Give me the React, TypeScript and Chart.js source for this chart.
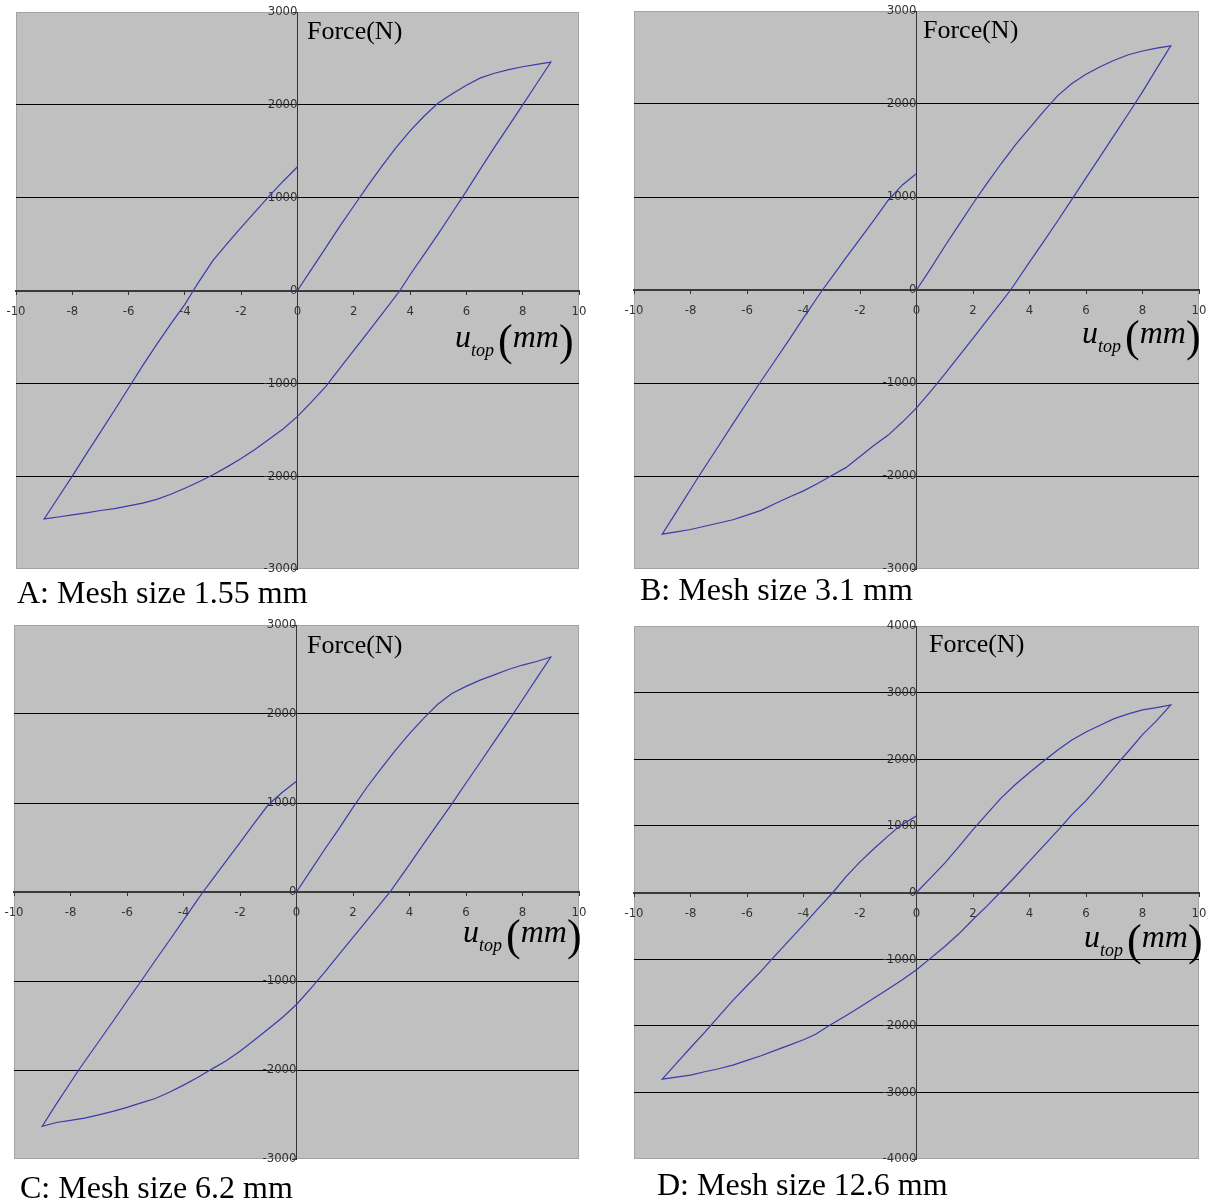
import React, { useEffect, useRef } from 'react';
import { Chart, registerables } from 'chart.js';

Chart.register(...registerables);

// ---------- data (displacement u_top in mm, force in N) ----------
const xTickValues = [-10, -8, -6, -4, -2, 0, 2, 4, 6, 8, 10];
const forceTicksSmall = [-3000, -2000, -1000, 0, 1000, 2000, 3000];
const forceTicksLarge = [-4000, -3000, -2000, -1000, 0, 1000, 2000, 3000, 4000];
const captions = ['A: Mesh size 1.55 mm', 'B: Mesh size 3.1 mm', 'C: Mesh size 6.2 mm', 'D: Mesh size 12.6 mm'];
const forceLabel = 'Force(N)';

const dispA = [0, 0.5, 1, 1.5, 2, 2.5, 3, 3.5, 4, 4.5, 5, 5.5, 6, 6.5, 7, 7.5, 8, 8.5, 9,
  8.5, 8, 7.5, 7, 6.5, 6, 5.5, 5, 4.5, 4, 3.64, 3, 2.5, 2, 1.5, 1, 0.5, 0, -0.5, -1, -1.5, -2, -2.5, -3, -3.5, -4, -4.5, -5, -5.5, -6, -6.5, -7, -7.5, -8, -8.5, -9,
  -8.5, -8, -7.5, -7, -6.5, -6, -5.5, -5, -4.5, -4, -3.7, -3.5, -3, -2.5, -2, -1.5, -1, -0.5, 0];
const forceA = [0, 230, 460, 690, 910, 1130, 1340, 1540, 1720, 1880, 2020, 2120, 2210, 2290, 2340, 2380, 2410, 2435, 2460,
  2230, 2000, 1770, 1545, 1310, 1070, 840, 610, 390, 170, 0, -255, -450, -645, -840, -1035, -1200, -1356, -1490, -1600, -1710, -1810, -1900, -1985, -2060, -2130, -2195, -2250, -2290, -2320, -2350, -2370, -2395, -2417, -2440, -2460,
  -2230, -2000, -1760, -1525, -1290, -1050, -810, -580, -360, -150, 0, 95, 325, 505, 680, 850, 1020, 1180, 1333];

const dispB = [0, 0.5, 1, 1.5, 2, 2.5, 3, 3.5, 4, 4.5, 5, 5.5, 6, 6.5, 7, 7.5, 8, 8.5, 9,
  8.5, 8, 7.5, 7, 6.5, 6, 5.5, 5, 4.5, 4, 3.5, 3.33, 3, 2.5, 2, 1.5, 1, 0.5, 0, -0.5, -1, -1.5, -2, -2.5, -3, -3.5, -4, -4.5, -5, -5.5, -6, -6.5, -7, -7.5, -8, -8.5, -9,
  -8.5, -8, -7.7, -7, -6.5, -6, -5.55, -5, -4.5, -4, -3.5, -3.33, -3, -2.5, -2, -1.5, -1, -0.5, 0];
const forceB = [0, 230, 470, 700, 930, 1150, 1360, 1560, 1740, 1920, 2090, 2220, 2320, 2400, 2470, 2530, 2570, 2600, 2625,
  2380, 2130, 1895, 1665, 1435, 1205, 975, 745, 520, 300, 75, 0, -130, -325, -520, -710, -905, -1090, -1268, -1420, -1560, -1670, -1790, -1910, -1995, -2080, -2160, -2225, -2295, -2370, -2420, -2470, -2505, -2540, -2575, -2600, -2625,
  -2385, -2145, -2000, -1675, -1440, -1210, -1000, -755, -530, -300, -75, 0, 135, 345, 550, 755, 965, 1130, 1252];

const dispC = [0, 0.5, 1, 1.5, 2, 2.5, 3, 3.5, 4, 4.5, 5, 5.5, 6, 6.5, 7, 7.5, 8, 8.5, 9,
  8.5, 8, 7.5, 7, 6.5, 6, 5.5, 5, 4.5, 4, 3.5, 3.31, 3, 2.5, 2, 1.5, 1, 0.5, 0, -0.5, -1, -1.5, -2, -2.5, -3, -3.5, -4, -4.5, -5, -5.5, -6, -6.5, -7, -7.5, -8, -8.5, -9,
  -8.5, -8, -7.71, -7, -6.5, -6, -5.5, -5, -4.5, -4, -3.5, -3.31, -3, -2.5, -2, -1.5, -1, -0.5, 0];
const forceC = [0, 240, 480, 710, 950, 1180, 1390, 1590, 1780, 1950, 2110, 2230, 2310, 2380, 2440, 2500, 2550, 2590, 2640,
  2400, 2160, 1920, 1690, 1455, 1225, 990, 765, 540, 310, 85, 0, -120, -315, -510, -705, -900, -1085, -1264, -1410, -1540, -1665, -1790, -1900, -1990, -2085, -2170, -2250, -2320, -2370, -2420, -2465, -2505, -2540, -2565, -2590, -2632,
  -2380, -2140, -2000, -1680, -1455, -1225, -1000, -770, -545, -315, -85, 0, 130, 345, 555, 770, 980, 1120, 1245];

const dispD = [0, 0.5, 1, 1.5, 2, 2.5, 3, 3.5, 4, 4.5, 5, 5.5, 6, 6.5, 7, 7.5, 8, 8.5, 9,
  8.5, 8, 7.5, 7.25, 7, 6.5, 6, 5.5, 5.15, 4.5, 4, 3.5, 2.96, 2.5, 2, 1.5, 1, 0.46, 0, -0.5, -1, -1.5, -2, -2.5, -3.1, -3.57, -4, -4.5, -5, -5.5, -6, -6.5, -7, -7.5, -8, -8.5, -9,
  -8.5, -8, -7.5, -7.29, -7, -6.5, -6, -5.5, -5.12, -4.5, -4, -3.5, -2.96, -2.5, -2, -1.5, -1, -0.59, 0];
const forceD = [0, 220, 440, 690, 945, 1185, 1420, 1620, 1800, 1975, 2140, 2290, 2410, 2510, 2610, 2680, 2740, 2775, 2815,
  2580, 2370, 2120, 2000, 1875, 1620, 1380, 1170, 1000, 700, 470, 240, 0, -200, -405, -620, -810, -1000, -1159, -1310, -1450, -1585, -1720, -1850, -2000, -2129, -2210, -2290, -2370, -2450, -2520, -2590, -2645, -2690, -2740, -2770, -2800,
  -2565, -2330, -2100, -2000, -1860, -1620, -1400, -1180, -1000, -715, -485, -250, 0, 235, 460, 660, 850, 1000, 1150];

// ---------- layout (page pixels) ----------
type PanelLayout = {
  left: number; top: number; width: number; height: number;
  forceX: number; forceY: number; unitX: number; unitY: number; capX: number; capY: number;
};

const layouts: PanelLayout[] = [
  { left: 16, top: 12, width: 563, height: 557, forceX: 307, forceY: 39, unitX: 455, unitY: 347, capX: 17, capY: 603 },
  { left: 634, top: 11, width: 565, height: 558, forceX: 923, forceY: 38, unitX: 1082, unitY: 343, capX: 640, capY: 600 },
  { left: 14, top: 625, width: 565, height: 534, forceX: 307, forceY: 653, unitX: 463, unitY: 942, capX: 20, capY: 1198 },
  { left: 634, top: 626, width: 565, height: 533, forceX: 929, forceY: 652, unitX: 1084, unitY: 947, capX: 657, capY: 1195 },
];

const PAD = 30;
const tickFont = "'Liberation Sans Narrow', 'DejaVu Sans Condensed', 'Arial Narrow', sans-serif";
const serif = "'Liberation Serif', 'Times New Roman', serif";

const plotBg = {
  id: 'plotBg',
  beforeDraw(chart: any) {
    const { ctx, chartArea } = chart;
    const { left, top, width, height } = chartArea;
    ctx.save();
    ctx.fillStyle = '#c0c0c0';
    ctx.fillRect(left, top, width, height);
    ctx.strokeStyle = '#a4a4a4';
    ctx.lineWidth = 1;
    ctx.strokeRect(left + 0.5, top + 0.5, width - 1, height - 1);
    ctx.restore();
  },
};

function Panel({ disp, force, yTicks, layout }: { disp: number[]; force: number[]; yTicks: number[]; layout: PanelLayout }) {
  const ref = useRef<HTMLCanvasElement>(null);
  useEffect(() => {
    if (!ref.current) return;
    const yMin = yTicks[0];
    const yMax = yTicks[yTicks.length - 1];
    const chart = new Chart(ref.current, {
      type: 'scatter',
      data: {
        datasets: [{
          data: disp.map((x, i) => ({ x, y: force[i] })),
          showLine: true,
          borderColor: '#3b3baa',
          borderWidth: 1.2,
          pointRadius: 0,
          tension: 0,
          fill: false,
        }],
      },
      options: {
        animation: false,
        responsive: false,
        maintainAspectRatio: false,
        layout: { padding: PAD },
        plugins: { legend: { display: false }, tooltip: { enabled: false } },
        scales: {
          x: {
            type: 'linear',
            min: xTickValues[0],
            max: xTickValues[xTickValues.length - 1],
            position: { y: 0 } as any,
            afterBuildTicks: (s: any) => { s.ticks = xTickValues.map((v) => ({ value: v })); },
            ticks: {
              autoSkip: false,
              maxRotation: 0,
              padding: 10,
              color: '#333',
              font: { family: tickFont, size: 13 },
              callback: (v: any) => String(v),
            },
            grid: { drawOnChartArea: false, drawTicks: true, tickLength: 3, tickColor: '#333' },
            border: { display: true, color: '#3a3a3a', width: 2 },
          },
          y: {
            type: 'linear',
            min: yMin,
            max: yMax,
            position: { x: 0 } as any,
            afterBuildTicks: (s: any) => { s.ticks = yTicks.map((v) => ({ value: v })); },
            ticks: {
              autoSkip: false,
              padding: 3,
              color: '#333',
              font: { family: tickFont, size: 13 },
              callback: (v: any) => String(v),
            },
            grid: {
              color: (ctx: any) => (ctx.tick && (ctx.tick.value === yMin || ctx.tick.value === yMax) ? 'rgba(0,0,0,0)' : '#000'),
              lineWidth: 1,
              drawTicks: true,
              tickLength: 4,
              tickColor: '#333',
            },
            border: { display: true, color: '#333', width: 1 },
          },
        },
      },
      plugins: [plotBg],
    });
    return () => chart.destroy();
  }, []);
  return (
    <canvas
      ref={ref}
      width={layout.width + 2 * PAD}
      height={layout.height + 2 * PAD}
      style={{ position: 'absolute', left: layout.left - PAD, top: layout.top - PAD, width: layout.width + 2 * PAD, height: layout.height + 2 * PAD }}
    />
  );
}

function UnitLabel({ x, y }: { x: number; y: number }) {
  return (
    <text x={x} y={y} fontFamily={serif} fill="#000">
      <tspan fontStyle="italic" fontSize={32}>u</tspan>
      <tspan fontStyle="italic" fontSize={18} dy={9}>top</tspan>
      <tspan fontSize={44} dy={-1} dx={4}>(</tspan>
      <tspan fontStyle="italic" fontSize={32} dy={-8} dx={0}>mm</tspan>
      <tspan fontSize={44} dy={8} dx={0}>)</tspan>
    </text>
  );
}

export default function App() {
  const panels = [
    { disp: dispA, force: forceA, yTicks: forceTicksSmall },
    { disp: dispB, force: forceB, yTicks: forceTicksSmall },
    { disp: dispC, force: forceC, yTicks: forceTicksSmall },
    { disp: dispD, force: forceD, yTicks: forceTicksLarge },
  ];
  return (
    <div style={{ position: 'absolute', left: 0, top: 0, width: 1208, height: 1202, overflow: 'hidden', background: '#fff' }}>
      {panels.map((p, i) => (
        <Panel key={i} disp={p.disp} force={p.force} yTicks={p.yTicks} layout={layouts[i]} />
      ))}
      <svg width={1208} height={1202} style={{ position: 'absolute', left: 0, top: 0, pointerEvents: 'none' }}>
        {layouts.map((l, i) => (
          <g key={i}>
            <text x={l.forceX} y={l.forceY} fontFamily={serif} fontSize={26} fill="#000">{forceLabel}</text>
            <UnitLabel x={l.unitX} y={l.unitY} />
            <text x={l.capX} y={l.capY} fontFamily={serif} fontSize={32} fill="#000">{captions[i]}</text>
          </g>
        ))}
      </svg>
    </div>
  );
}
